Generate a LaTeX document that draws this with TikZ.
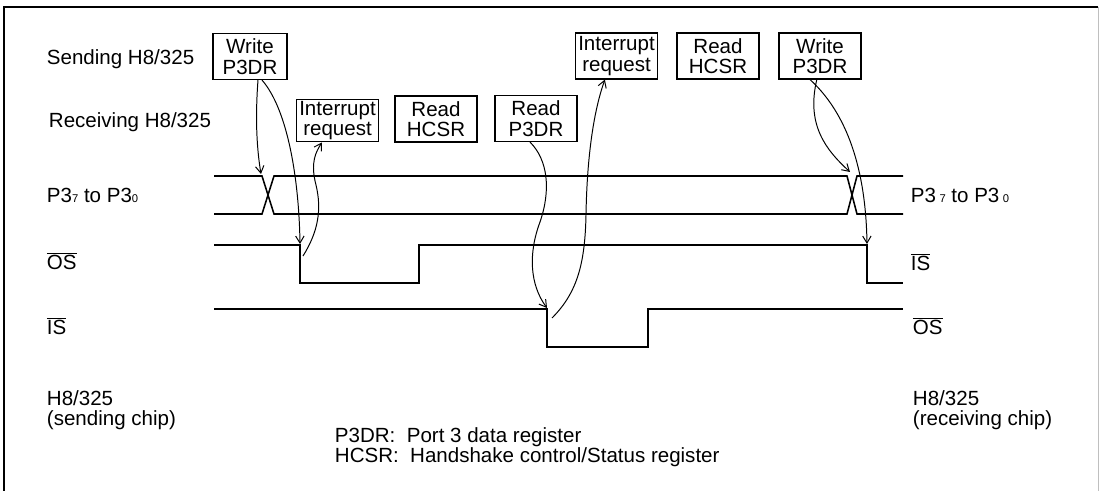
\documentclass[tikz,border=0pt]{standalone}
\usepackage{fontspec}
\setmainfont{Liberation Sans}
\usetikzlibrary{arrows.meta}

\begin{document}
\begin{tikzpicture}[
    x=0.025cm, y=-0.025cm, font=\fontsize{14.6pt}{14.6pt}\selectfont,
    frm/.style={draw=black, line width=1.3pt},
    sig/.style={draw=black, line width=1.1pt, line join=miter},
    box/.style={draw=black, line width=0.8pt, align=center, inner sep=1pt,
                minimum width=2.05cm, minimum height=1.15cm},
    lbl/.style={anchor=west, align=left},
    ev/.style={-{Straight Barb[length=5pt, width=6pt]}, draw=black, line width=0.7pt},
]

\useasboundingbox (0,0) rectangle (1100,491);

% ===================== Marco =====================
\draw[frm] (4,491) -- (4,7) -- (1098,7);
\draw[draw=black!25, line width=0.6pt] (1098,7) -- (1098,491);

% ===================== Etiquetas a la izquierda =====================
\node[lbl] (send) at (42,59)  {Sending H8/325};
\node[lbl] (recv) at (44,122) {Receiving H8/325};
\node[lbl] (p3l)  at (42,195) {P3{\footnotesize 7} to P3{\footnotesize 0}};
\node[lbl] (osl)  at (42,261) {$\overline{\hbox{OS}}$};
\node[lbl] (isl)  at (42,326) {$\overline{\hbox{IS}}$};
\node[lbl] (chl)  at (42,410) {H8/325\\(sending chip)};

% ===================== Etiquetas a la derecha =====================
\node[lbl] (p3r)  at (906,195) {P3\,{\footnotesize 7} to P3\,{\footnotesize 0}};
\node[lbl] (isr)  at (906,262) {$\overline{\hbox{IS}}$};
\node[lbl] (osr)  at (908,326) {$\overline{\hbox{OS}}$};
\node[lbl] (chr)  at (908,410) {H8/325\\(receiving chip)};

% ===================== Eventos =====================
\node[box, minimum width=1.85cm] (wr1) at (250,56.5) {Write\\P3DR};
\node[box, minimum height=1.07cm, inner sep=0.5pt] (ir1) at (337.5,120.5) {Interrupt\\request};
\node[box] (rh1) at (436,119) {Read\\HCSR};
\node[box] (rp)  at (536,118.5) {Read\\P3DR};
\node[box, inner sep=0.5pt] (ir2) at (616.5,56) {Interrupt\\request};
\node[box] (rh2) at (718,56) {Read\\HCSR};
\node[box] (wr2) at (820,56) {Write\\P3DR};

% ===================== Bus P3 =====================
\draw[sig] (214,176) -- (262,176) -- (274,214) -- (847,214) -- (857,176) -- (903,176);
\draw[sig] (214,214) -- (262,214) -- (274,176) -- (847,176) -- (857,214) -- (903,214);

% ===================== OS (emisor) / IS (receptor) =====================
\draw[sig] (214,245) -- (300,245) -- (300,283) -- (419,283) -- (419,245)
           -- (867,245) -- (867,283) -- (903,283);

% ===================== IS (emisor) / OS (receptor) =====================
\draw[sig] (214,309) -- (547,309) -- (547,347) -- (648,347) -- (648,309) -- (903,309);

% Puntos de las flechas sobre las señales
\coordinate (cx1) at (261,174);
\coordinate (osf) at (300,244);
\coordinate (os0) at (303,256);
\coordinate (isf) at (547,308);
\coordinate (is0) at (552,318);
\coordinate (cx2) at (850,172);
\coordinate (irf) at (867,244);

% ===================== Flechas =====================
\draw[ev] ([xshift=0.2cm]wr1.south) .. controls (255,120) and (257,150) .. (cx1);
\draw[ev] ([xshift=0.3cm]wr1.south) .. controls (288,110) and (299,180) .. (osf);
\draw[ev] (os0) .. controls (318,232) and (322,210) .. (316,185)
          .. controls (310,162) and (316,152) .. ([xshift=-0.39cm]ir1.south);
\draw[ev] ([xshift=-0.15cm]rp.south) .. controls (548,160) and (551,190) .. (540,222)
          .. controls (528,254) and (530,285) .. (isf);
\draw[ev] (is0) .. controls (578,292) and (585,262) .. (586,215)
          .. controls (587,155) and (594,110) .. ([xshift=-0.29cm]ir2.south);
\draw[ev] ([xshift=-0.08cm]wr2.south) .. controls (806,125) and (826,150) .. (cx2);
\draw[ev] ([xshift=-0.25cm]wr2.south) .. controls (852,118) and (866,180) .. (irf);

% ===================== Leyenda =====================
\node[lbl] (leg) at (330,447)
      {P3DR:\ \ Port 3 data register\\HCSR:\ \ Handshake control/Status register};

\end{tikzpicture}
\end{document}
